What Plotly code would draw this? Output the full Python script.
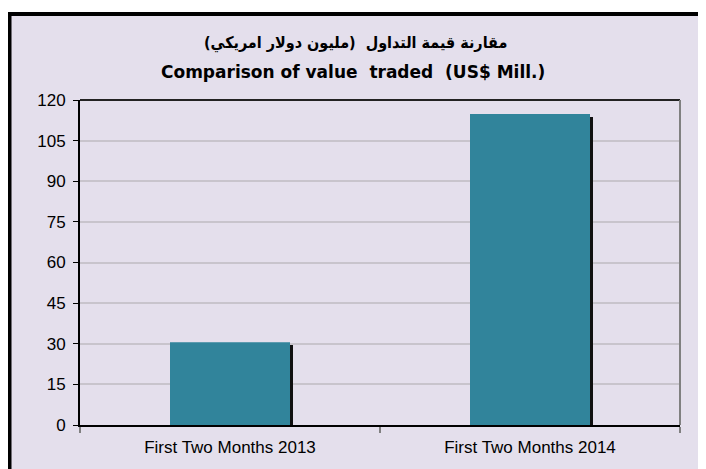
import plotly.graph_objects as go

categories = ["First Two Months 2013", "First Two Months 2014"]
values = [30.6, 114.8]
y_ticks = [0, 15, 30, 45, 60, 75, 90, 105, 120]
title_ar = "مقارنة قيمة التداول  (مليون دولار امريكي)"
title_en = "Comparison of value  traded  (US$ Mill.)"

BG = "#E4DFEC"
BAR = "#31849B"

fig = go.Figure()
# shadow
fig.add_trace(go.Bar(x=categories, y=values, base=-1.1, width=0.4, offset=-0.19,
                     marker=dict(color="#111111", line=dict(width=0)),
                     hoverinfo="skip", showlegend=False))
fig.add_trace(go.Bar(x=categories, y=values, width=0.4, offset=-0.2,
                     marker=dict(color=BAR, line=dict(width=0)),
                     showlegend=False))

# page has an 8px body margin; figure sized/placed to compensate
OFF = 8
W, H = 706 - OFF, 469 - OFF
L, T = 80 - OFF, 100 - OFF
pw, ph = 600, 325
R = W - L - pw
B = H - T - ph

def px(xp):
    return (xp - 80) / pw

def py(yp):
    return (425 - yp) / ph

fig.update_layout(
    width=W, height=H,
    margin=dict(l=L, r=R, t=T, b=B, pad=0),
    paper_bgcolor="white",
    plot_bgcolor=BG,
    barmode="overlay",
    font=dict(family="Liberation Sans, Arial", size=17, color="black"),
    xaxis=dict(showgrid=False, showline=True, linecolor="black", linewidth=2,
               ticks="outside", tickson="boundaries", ticklen=6, tickcolor="#808080",
               tickwidth=2, mirror=False, ticklabelstandoff=6,
               tickfont=dict(size=17, family="Liberation Sans, Arial")),
    yaxis=dict(range=[0, 120], tickvals=y_ticks, showgrid=True, gridcolor="#C8C4CC",
               gridwidth=2, showline=True, linecolor="black", linewidth=2,
               ticks="outside", ticklen=5, tickcolor="black", tickwidth=1,
               zeroline=False, ticklabelstandoff=4,
               tickfont=dict(size=17, family="Liberation Sans, Arial")),
    shapes=[
        dict(type="rect", xref="paper", yref="paper", layer="below",
             x0=px(9.5), x1=px(730), y0=py(500), y1=py(14),
             line=dict(color="black", width=4), fillcolor=BG),
        dict(type="line", xref="paper", yref="paper", x0=0, x1=1, y0=1, y1=1,
             line=dict(color="#222222", width=2)),
        dict(type="line", xref="paper", yref="paper", x0=1, x1=1, y0=0, y1=1,
             line=dict(color="#808080", width=2)),
    ],
    annotations=[
        dict(text="<b>" + title_ar + "</b>", xref="paper", yref="paper",
             x=px(355), y=py(43), showarrow=False, xanchor="center", yanchor="middle",
             font=dict(family="DejaVu Sans Condensed, DejaVu Sans", size=16, color="black")),
        dict(text="<b>" + title_en + "</b>", xref="paper", yref="paper",
             x=px(353), y=py(72), showarrow=False, xanchor="center", yanchor="middle",
             font=dict(family="DejaVu Sans", size=17, color="black")),
    ],
)

fig.write_html("out.html")
